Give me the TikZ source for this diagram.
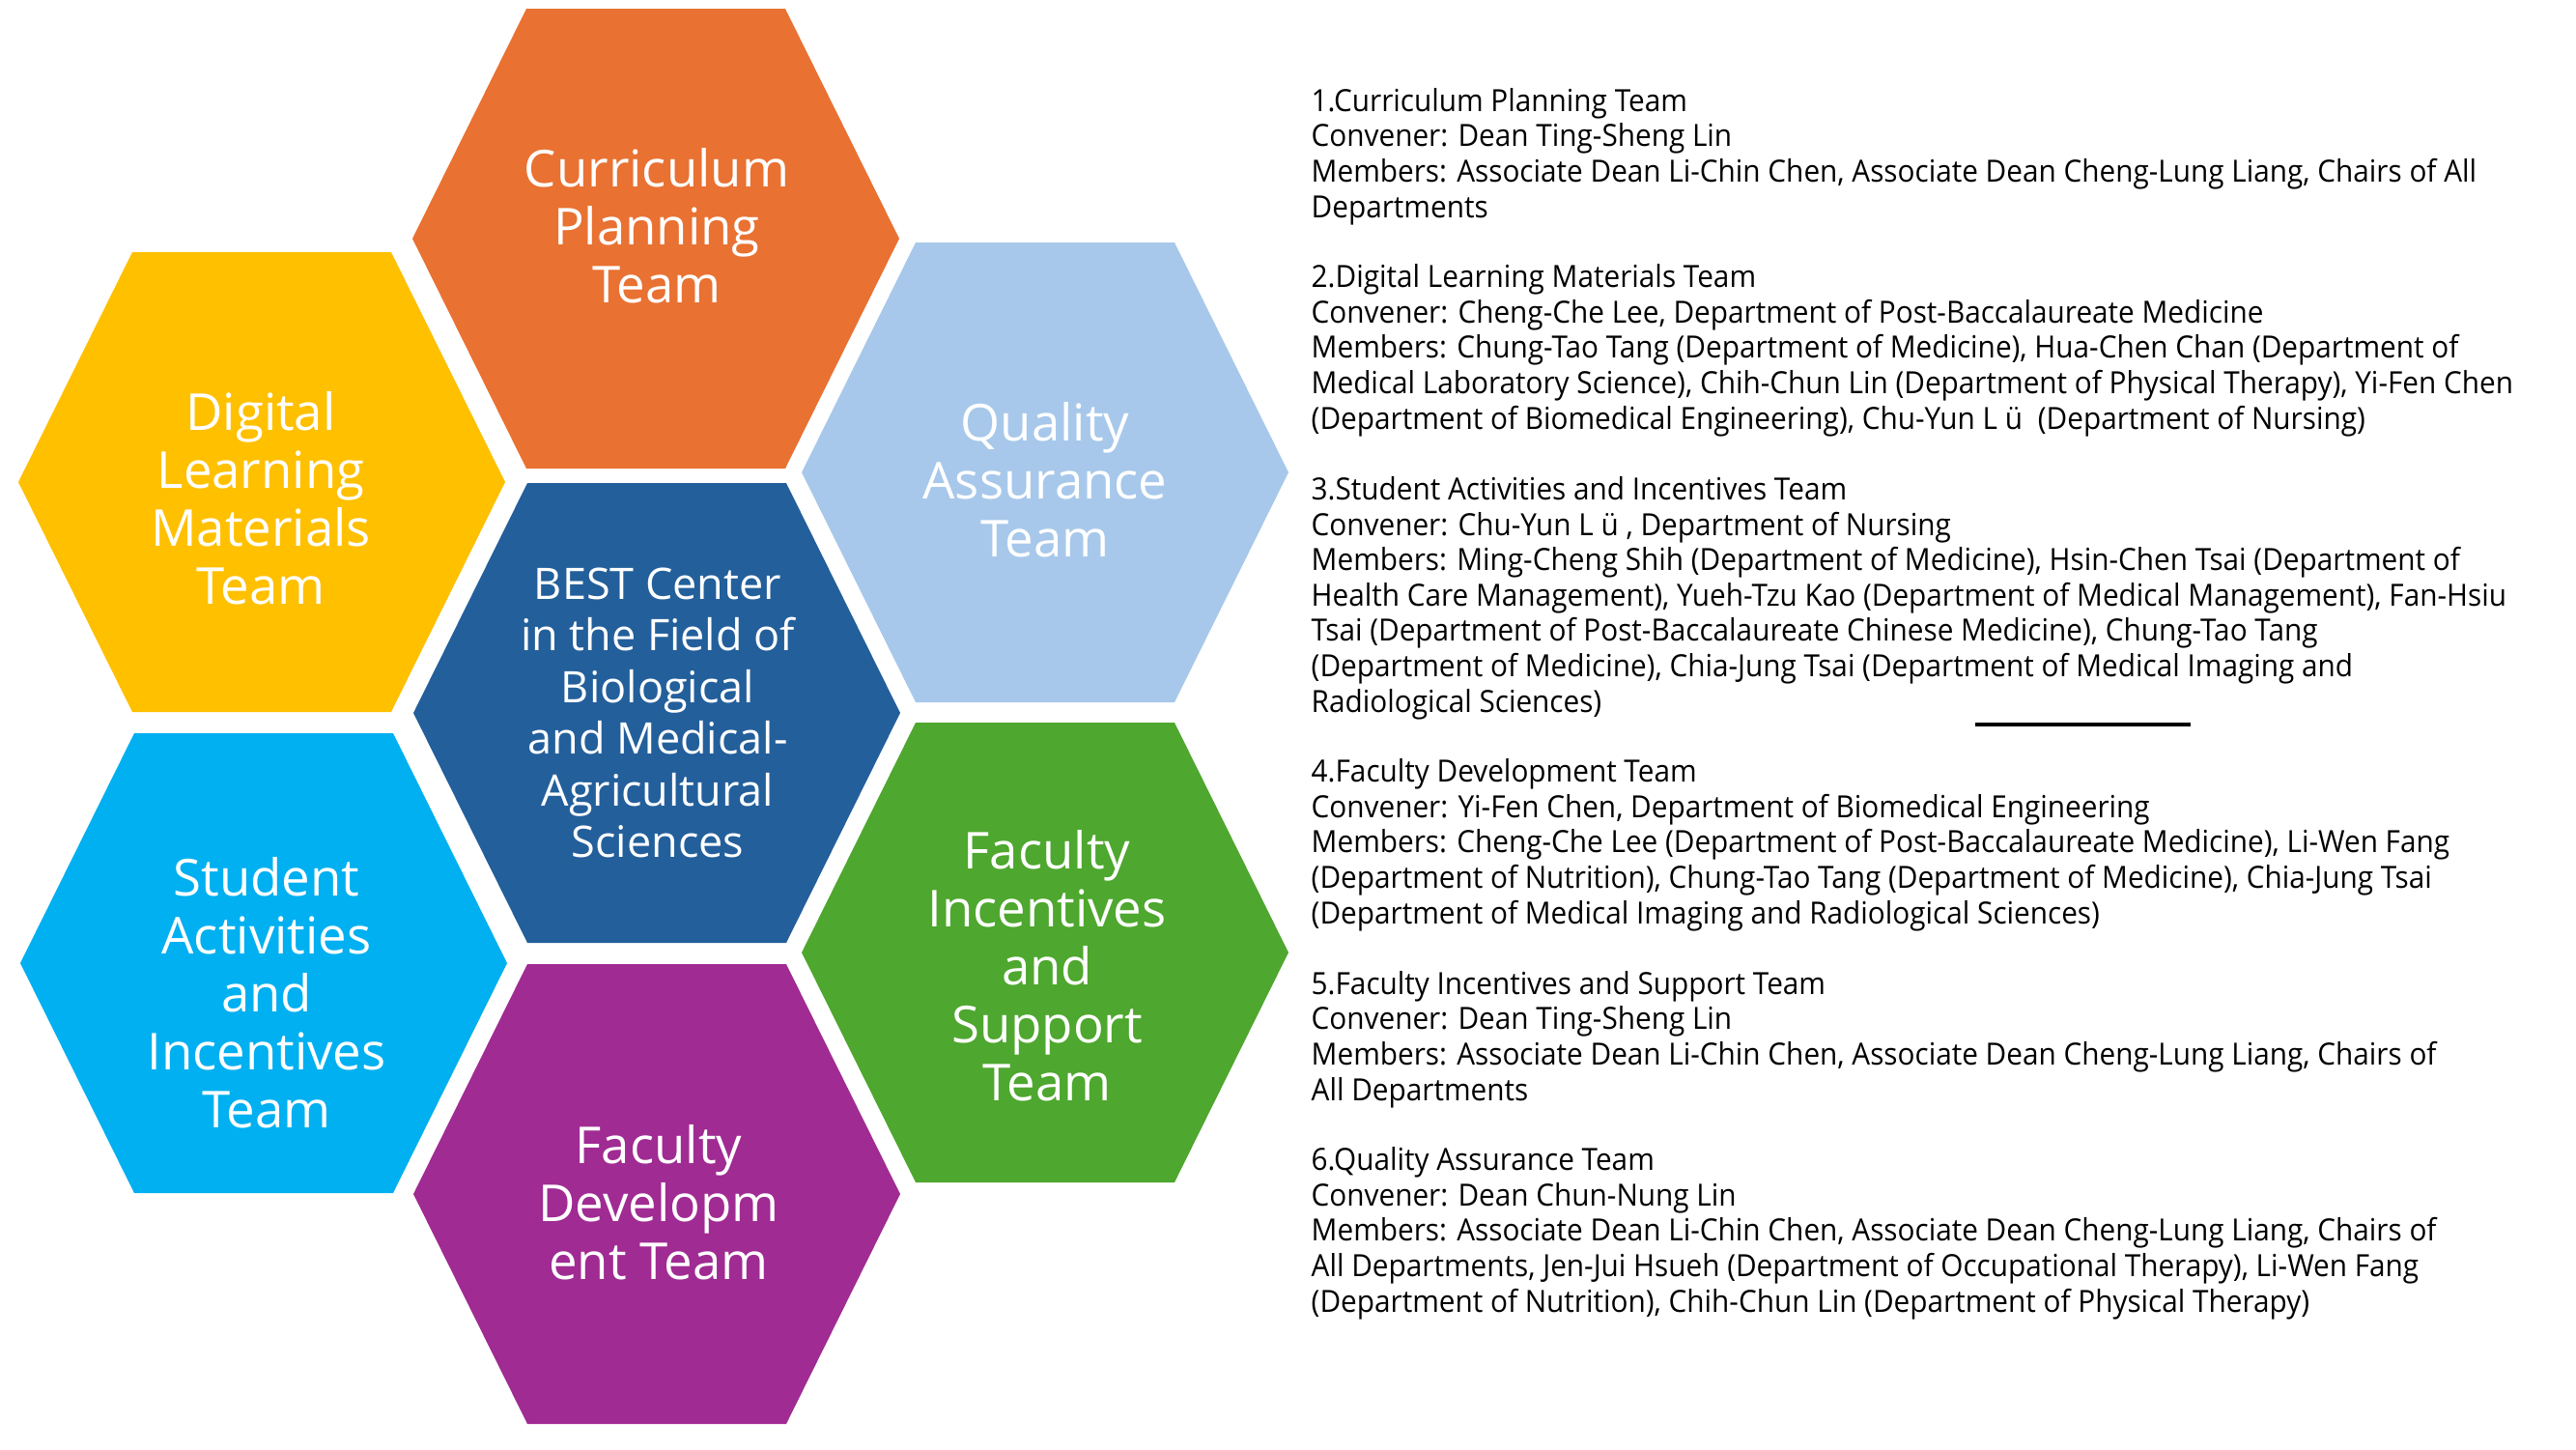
\documentclass[tikz,border=0pt]{standalone}
\usepackage{fontspec}
\usepackage{tikz}
\setmainfont{Open Sans}
\newfontfamily\listfont[FakeStretch=0.94]{Open Sans}
\usetikzlibrary{positioning}
\definecolor{hexorange}{HTML}{E97132}
\definecolor{hexyellow}{HTML}{FFC000}
\definecolor{hexsky}{HTML}{A7C8EA}
\definecolor{hexblue}{HTML}{235F9B}
\definecolor{hexcyan}{HTML}{00B0F0}
\definecolor{hexgreen}{HTML}{4EA72E}
\definecolor{hexpurple}{HTML}{A02B93}

\begin{document}
\begin{tikzpicture}[
    hexlabel/.style={text=white, align=center, inner sep=0pt,
      font=\fontsize{15}{17.07}\selectfont},
    teamlist/.style={anchor=base west, align=left, inner sep=0pt,
      font=\listfont\fontsize{9}{10.39}\selectfont}]
    \useasboundingbox (0,0) rectangle (26.67,-15);

    % honeycomb
    \foreach \x/\y/\c in {6.79/-2.47/hexorange, 2.71/-4.99/hexyellow,
        10.82/-4.89/hexsky, 6.80/-7.38/hexblue, 2.73/-9.97/hexcyan,
        10.82/-9.86/hexgreen, 6.80/-12.36/hexpurple}
      \fill[\c] ({\x-2.52},\y) -- ({\x-1.34},{\y+2.38}) -- ({\x+1.34},{\y+2.38})
        -- ({\x+2.52},\y) -- ({\x+1.34},{\y-2.38}) -- ({\x-1.34},{\y-2.38}) -- cycle;

    \node[hexlabel] (cur) at (6.80,-2.34) {Curriculum\\Planning\\Team};
    \node[hexlabel] (dlm) at (2.70,-5.16) {Digital\\Learning\\Materials\\Team};
    \node[hexlabel] (qat) at (10.82,-4.97) {Quality\\Assurance\\Team};
    \node[hexlabel, font=\fontsize{12.8}{15.2}\selectfont] (best) at (6.81,-7.38)
      {BEST Center\\in the Field of\\Biological\\and Medical-\\Agricultural\\Sciences};
    \node[hexlabel] (sai) at (2.76,-10.28) {Student\\Activities\\and\\Incentives\\Team};
    \node[hexlabel] (fis) at (10.84,-10.00) {Faculty\\Incentives\\and\\Support\\Team};
    \node[hexlabel] (fdt) at (6.82,-12.45) {Faculty\\Developm\\ent Team};

    % team list (placed by the baseline of the last line)
    \node[teamlist] (cpt) at (13.57,-2.25) {1.Curriculum Planning Team\\
      Convener: Dean Ting-Sheng Lin\\
      Members: Associate Dean Li-Chin Chen, Associate Dean Cheng-Lung Liang, Chairs of All\\
      Departments};
    \node[teamlist] (dlmt) at (13.57,-4.44) {2.Digital Learning Materials Team\\
      Convener: Cheng-Che Lee, Department of Post-Baccalaureate Medicine\\
      Members: Chung-Tao Tang (Department of Medicine), Hua-Chen Chan (Department of\\
      Medical Laboratory Science), Chih-Chun Lin (Department of Physical Therapy), Yi-Fen Chen\\
      (Department of Biomedical Engineering), Chu-Yun L ü\enspace(Department of Nursing)};
    \node[teamlist] (sait) at (13.57,-7.37) {3.Student Activities and Incentives Team\\
      Convener: Chu-Yun L ü , Department of Nursing\\
      Members: Ming-Cheng Shih (Department of Medicine), Hsin-Chen Tsai (Department of\\
      Health Care Management), Yueh-Tzu Kao (Department of Medical Management), Fan-Hsiu\\
      Tsai (Department of Post-Baccalaureate Chinese Medicine), Chung-Tao Tang\\
      (Department of Medicine), Chia-Jung Tsai (Department of Medical Imaging and\\
      Radiological Sciences)};
    \node[teamlist] (fdtt) at (13.57,-9.56) {4.Faculty Development Team\\
      Convener: Yi-Fen Chen, Department of Biomedical Engineering\\
      Members: Cheng-Che Lee (Department of Post-Baccalaureate Medicine), Li-Wen Fang\\
      (Department of Nutrition), Chung-Tao Tang (Department of Medicine), Chia-Jung Tsai\\
      (Department of Medical Imaging and Radiological Sciences)};
    \node[teamlist] (fist) at (13.57,-11.39) {5.Faculty Incentives and Support Team\\
      Convener: Dean Ting-Sheng Lin\\
      Members: Associate Dean Li-Chin Chen, Associate Dean Cheng-Lung Liang, Chairs of\\
      All Departments};
    \node[teamlist] (qatt) at (13.57,-13.58) {6.Quality Assurance Team\\
      Convener: Dean Chun-Nung Lin\\
      Members: Associate Dean Li-Chin Chen, Associate Dean Cheng-Lung Liang, Chairs of\\
      All Departments, Jen-Jui Hsueh (Department of Occupational Therapy), Li-Wen Fang\\
      (Department of Nutrition), Chih-Chun Lin (Department of Physical Therapy)};

    \coordinate (ruleL) at (20.45,-7.50);
    \coordinate (ruleR) at (22.68,-7.50);
    \draw[line width=1pt] (ruleL) -- (ruleR);
\end{tikzpicture}
\end{document}
